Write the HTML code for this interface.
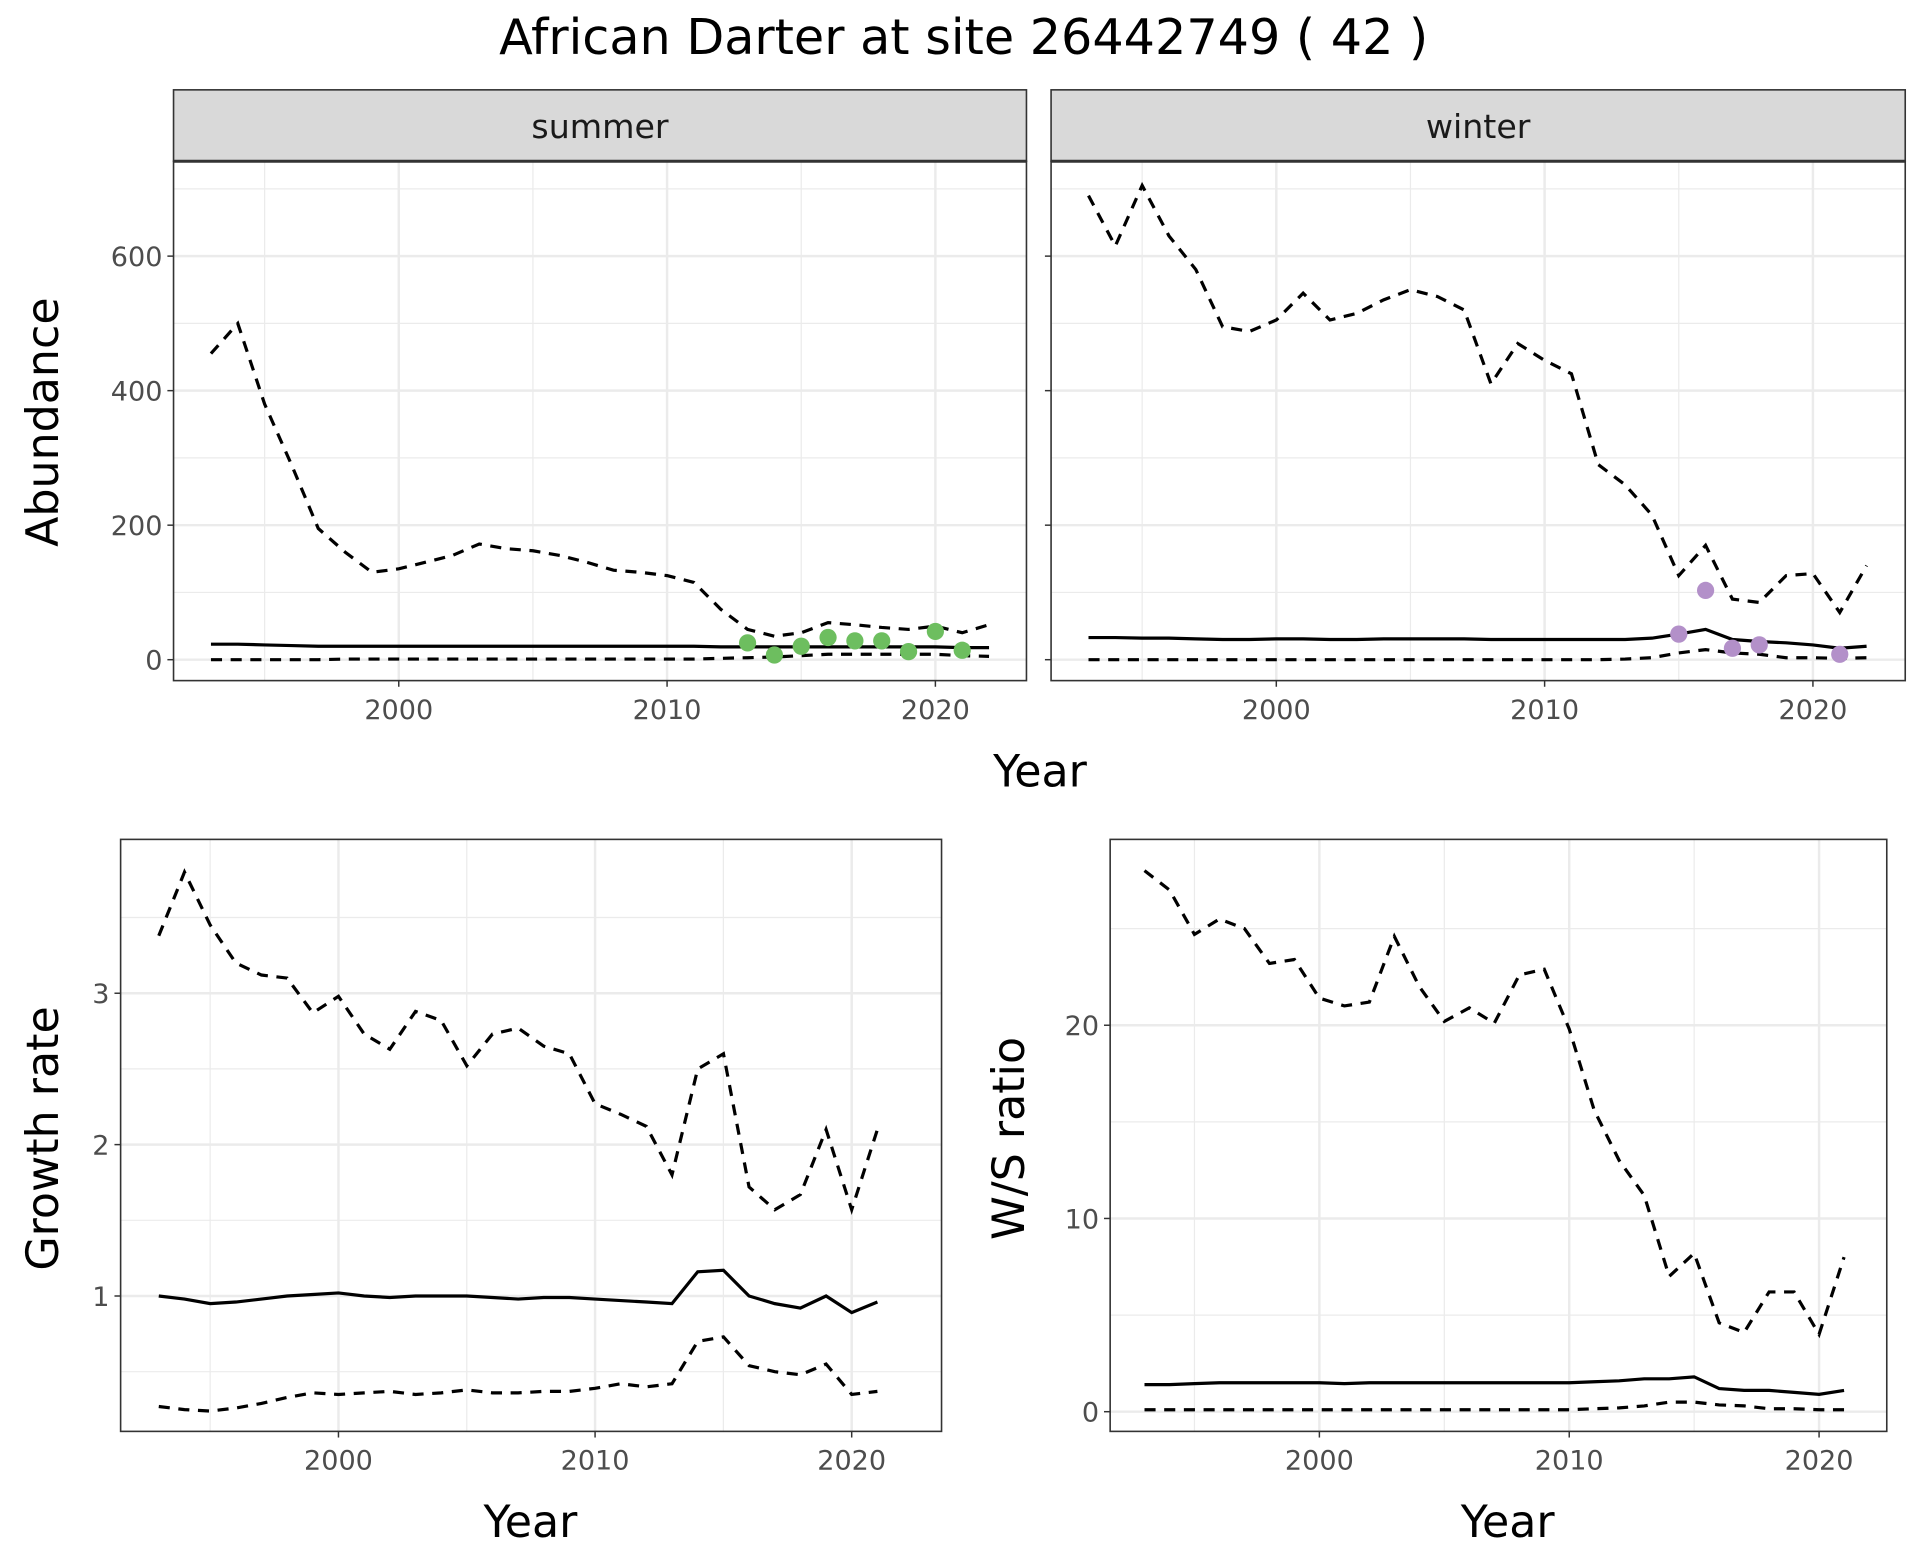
<!DOCTYPE html>
<html><head><meta charset="utf-8"><style>
html,body{margin:0;padding:0;background:#fff}
svg{display:block}
text{font-family:"DejaVu Sans","Liberation Sans",sans-serif}
</style></head><body>
<svg id="chart" width="1920" height="1560" viewBox="0 0 1560 1267.5" preserveAspectRatio="none" xmlns="http://www.w3.org/2000/svg">
<text x="783" y="44" font-size="40" text-anchor="middle" fill="#000">African Darter at site 26442749 ( 42 )</text>
</svg>
<script>
const yearsFull=[1993,1994,1995,1996,1997,1998,1999,2000,2001,2002,2003,2004,2005,2006,2007,2008,2009,2010,2011,2012,2013,2014,2015,2016,2017,2018,2019,2020,2021,2022];
const summerUpper=[455,500,380,290,195,160,130,135,145,155,172,165,162,155,145,133,130,125,115,75,45,35,40,55,52,48,45,50,40,52];
const summerMid=[23,23,22,21,20,20,20,20,20,20,20,20,20,20,20,20,20,20,20,19,19,19,19,19,19,19,19,19,18,18];
const summerLower=[0,0,0,0,0,1,1,1,1,1,1,1,1,1,1,1,1,1,1,2,3,4,6,8,8,8,8,8,6,5];
const summerPtYears=[2013,2014,2015,2016,2017,2018,2019,2020,2021];
const summerPts=[25,7,20,33,28,28,12,42,14];
const winterUpper=[690,615,705,630,580,495,488,505,545,505,515,535,550,540,520,410,470,445,425,290,260,215,125,170,90,85,125,128,70,140];
const winterMid=[33,33,32,32,31,30,30,31,31,30,30,31,31,31,31,30,30,30,30,30,30,32,38,45,30,27,25,22,17,20];
const winterLower=[0,0,0,0,0,0,0,0,0,0,0,0,0,0,0,0,0,0,0,0,1,3,10,15,10,8,3,3,2,3];
const winterPtYears=[2015,2016,2017,2018,2021];
const winterPts=[38,103,17,22,8];
const years2=yearsFull.slice(0,29);
const growthUpper=[3.38,3.8,3.45,3.2,3.12,3.1,2.87,2.98,2.73,2.63,2.88,2.82,2.52,2.73,2.77,2.65,2.6,2.27,2.2,2.12,1.8,2.5,2.6,1.72,1.57,1.67,2.1,1.57,2.1];
const growthMid=[1.0,0.98,0.95,0.96,0.98,1.0,1.01,1.02,1.0,0.99,1.0,1.0,1.0,0.99,0.98,0.99,0.99,0.98,0.97,0.96,0.95,1.16,1.17,1.0,0.95,0.92,1.0,0.89,0.96];
const growthLower=[0.27,0.25,0.24,0.26,0.29,0.33,0.36,0.35,0.36,0.37,0.35,0.36,0.38,0.36,0.36,0.37,0.37,0.39,0.42,0.4,0.42,0.7,0.73,0.54,0.5,0.48,0.55,0.35,0.37];
const wsUpper=[28,27,24.7,25.5,25,23.2,23.4,21.4,21,21.2,24.6,22,20.2,20.9,20.1,22.6,22.9,19.8,15.6,13,11.2,7,8.2,4.6,4.1,6.2,6.2,4,8];
const wsMid=[1.4,1.4,1.45,1.5,1.5,1.5,1.5,1.5,1.45,1.5,1.5,1.5,1.5,1.5,1.5,1.5,1.5,1.5,1.55,1.6,1.7,1.7,1.8,1.2,1.1,1.1,1.0,0.9,1.1];
const wsLower=[0.1,0.1,0.1,0.1,0.1,0.1,0.1,0.1,0.1,0.1,0.1,0.1,0.1,0.1,0.1,0.1,0.1,0.1,0.15,0.2,0.3,0.5,0.5,0.35,0.3,0.15,0.15,0.1,0.1];
const xTicks=[2000,2010,2020];
const abTicks=[0,200,400,600];
const grTicks=[1,2,3];
const wsTicks=[0,10,20];

const svg=document.getElementById('chart');
const NS='http://www.w3.org/2000/svg';
function mk(tag,attrs,parent){const e=document.createElementNS(NS,tag);for(const k in attrs)e.setAttribute(k,attrs[k]);(parent||svg).appendChild(e);return e;}

function panel(o){
  const g=mk('g',{});
  
  
  const sx=v=>o.x0+(v-2000)*o.xs, sy=v=>o.y0-(v-o.v0)*o.ys;
  mk('rect',{x:o.l,y:o.t,width:o.r-o.l,height:o.b-o.t,fill:'#fff'},g);
  for(let yr=1995;yr<=2025;yr+=10){const x=sx(yr);if(x>o.l&&x<o.r)mk('line',{x1:x,x2:x,y1:o.t,y2:o.b,stroke:'#EBEBEB','stroke-width':1},g);}
  for(let i=0;i<o.yt.length+1;i++){const v=o.yt[0]+(i-0.5)*o.step;const y=sy(v);if(y>o.t&&y<o.b)mk('line',{x1:o.l,x2:o.r,y1:y,y2:y,stroke:'#EBEBEB','stroke-width':1},g);}
  xTicks.forEach(t=>{const x=sx(t);mk('line',{x1:x,x2:x,y1:o.t,y2:o.b,stroke:'#EBEBEB','stroke-width':2},g);
    mk('line',{x1:x,x2:x,y1:o.b,y2:o.b+5,stroke:'#333','stroke-width':1.2},g);
    const tx=mk('text',{x:x,y:o.b+31,'font-size':22,'text-anchor':'middle',fill:'#4D4D4D'},g);tx.textContent=t;
    
    });
  o.yt.forEach(t=>{const y=sy(t);mk('line',{x1:o.l,x2:o.r,y1:y,y2:y,stroke:'#EBEBEB','stroke-width':2},g);
    mk('line',{x1:o.l-5,x2:o.l,y1:y,y2:y,stroke:'#333','stroke-width':1.2},g);
    if(o.ylab){
    const tx=mk('text',{x:o.l-9,y:y+8,'font-size':22,'text-anchor':'end',fill:'#4D4D4D'},g);tx.textContent=t;
    
    }});
  const line=(ys,vals,dash,nm)=>{const p=mk('path',{d:vals.map((v,i)=>(i?'L':'M')+sx(ys[i]).toFixed(1)+','+sy(v).toFixed(1)).join(''),fill:'none',stroke:'#000','stroke-width':2.6,'stroke-dasharray':dash?'9,7':'none'},g);
    
    };
  line(o.yrs,o.up,true,'upper-bound-line');line(o.yrs,o.lo,true,'lower-bound-line');line(o.yrs,o.mid,false,'median-line');
  if(o.pts){o.pts.forEach((v,i)=>{const c=mk('circle',{cx:sx(o.pyrs[i]),cy:sy(v),r:7,fill:o.pc},g);
    
    });}
  mk('rect',{x:o.l,y:o.t,width:o.r-o.l,height:o.b-o.t,fill:'none',stroke:'#333','stroke-width':1.3},g);
  if(o.strip){const s=mk('rect',{x:o.l,y:o.t-58,width:o.r-o.l,height:58,fill:'#D9D9D9',stroke:'#333','stroke-width':1.3},g);
    
    
    const st=mk('text',{x:(o.l+o.r)/2,y:o.t-19,'font-size':27,'text-anchor':'middle',fill:'#1A1A1A'},g);st.textContent=o.strip;
    
    
    mk('line',{x1:o.l,x2:o.r,y1:o.t,y2:o.t,stroke:'#333','stroke-width':2.5},g);}
}
panel({name:'summer-panel',l:141,r:834,t:131,b:553,x0:324,xs:21.8,y0:536,v0:0,ys:109.3/200,yt:abTicks,step:200,ylab:true,yrs:yearsFull,up:summerUpper,mid:summerMid,lo:summerLower,pts:summerPts,pyrs:summerPtYears,pc:'#6DBE5F',strip:'summer'});
panel({name:'winter-panel',l:854,r:1548,t:131,b:553,x0:1037,xs:21.8,y0:536,v0:0,ys:109.3/200,yt:abTicks,step:200,ylab:false,yrs:yearsFull,up:winterUpper,mid:winterMid,lo:winterLower,pts:winterPts,pyrs:winterPtYears,pc:'#B390C9',strip:'winter'});
panel({name:'growth-panel',l:98,r:765,t:682,b:1163,x0:275,xs:20.85,y0:1053,v0:1,ys:123,yt:grTicks,step:1,ylab:true,yrs:years2,up:growthUpper,mid:growthMid,lo:growthLower});
panel({name:'ws-ratio-panel',l:902,r:1533,t:682,b:1163,x0:1072,xs:20.3,y0:1147,v0:0,ys:15.7,yt:wsTicks,step:10,ylab:true,yrs:years2,up:wsUpper,mid:wsMid,lo:wsLower});

function label(txt,x,y,rot,nm){const t=mk('text',{x:x,y:y,'font-size':36,'text-anchor':'middle',fill:'#000',transform:rot?`rotate(-90 ${x} ${y})`:''});t.textContent=txt;
  
  }
label('Year',845,639,false,'x-axis-title-top');
label('Abundance',47,343,true,'y-axis-title-abundance');
label('Year',431,1249,false,'x-axis-title-growth');
label('Growth rate',47,925,true,'y-axis-title-growth');
label('Year',1225,1249,false,'x-axis-title-ws');
label('W/S ratio',832,925,true,'y-axis-title-ws');
</script>
</body></html>
